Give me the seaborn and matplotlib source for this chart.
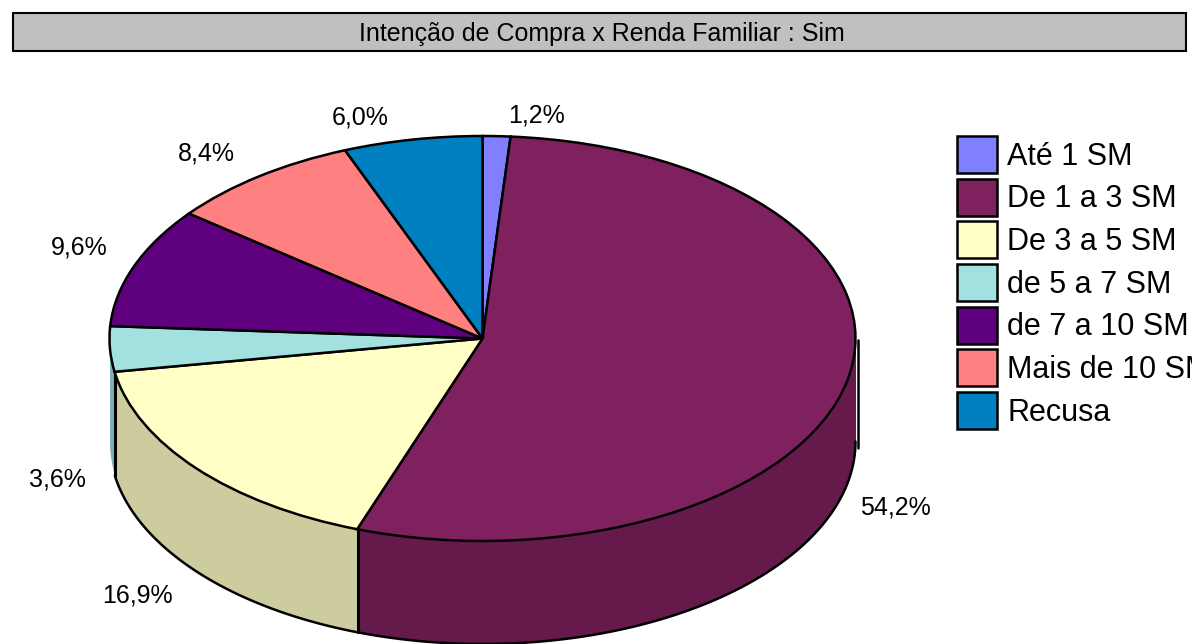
import numpy as np
import matplotlib.pyplot as plt
import matplotlib.patches as mpatches
import seaborn as sns

# Chart data
categories = ["Até 1 SM", "De 1 a 3 SM", "De 3 a 5 SM", "de 5 a 7 SM",
              "de 7 a 10 SM", "Mais de 10 SM", "Recusa"]
shares = [1.2, 54.2, 16.9, 3.6, 9.6, 8.4, 6.0]
title = "Intenção de Compra x Renda Familiar : Sim"

# Colours
top_colors = ["#8080FF", "#7F205F", "#FFFFC6", "#A3E0E0", "#5F007F", "#FF8080", "#0080C0"]
wall_colors = ["#6666CC", "#661A4C", "#CCCC9E", "#7FB0B8", "#4C0066", "#CC6666", "#006699"]

# Pixel layout of the picture
W, H = 1192, 644
cx, cy, rx, ry = 482.5, 338.5, 373, 202.5
depth = 103 / ry
label_xy = [(537, 115), (895, 508), (137, 596), (57, 480), (79, 247), (206, 154), (360, 117)]

sns.set_theme(style="white")
plt.rcParams["font.family"] = ["Liberation Sans", "DejaVu Sans"]

fig = plt.figure(figsize=(W / 100, H / 100), dpi=100)
ax = fig.add_axes([0, 0, 1, 1])

# Pie top, squashed to an ellipse by the axes limits
wedges, _ = ax.pie(shares, colors=sns.color_palette(top_colors), startangle=90,
                   counterclock=False, radius=1,
                   wedgeprops=dict(edgecolor="black", linewidth=1.8, zorder=3))
ax.set_aspect("auto")
ax.set_xlim(-cx / rx, (W - cx) / rx)
ax.set_ylim((cy - H) / ry, cy / ry)

# Side wall: the part of each slice on the front half of the ellipse
edges = 90 - 3.6 * np.cumsum([0] + shares)
for i in range(len(shares)):
    a1, a2 = edges[i], edges[i + 1]
    hi, lo = min(a1, 0), max(a2, -180)
    if hi <= lo:
        continue
    t = np.radians(np.linspace(hi, lo, 120))
    x, y = np.cos(t), np.sin(t)
    ax.fill_between(x, y, y - depth, color=wall_colors[i], linewidth=0, zorder=1)
    if i in (1, 2):
        ax.plot(x, y - depth, color="black", linewidth=1.8, zorder=2)
        ax.plot([x[-1], x[-1]], [y[-1], y[-1] - depth], color="black", linewidth=2.2, zorder=2)

# Stray vertical line right of the pie, as in the original
ax.plot([(858 - cx) / rx] * 2, [(cy - 340) / ry, (cy - 448) / ry], color="black", linewidth=1.8, zorder=2)

# Percentage labels
for (px, py), s in zip(label_xy, shares):
    ax.text((px - cx) / rx, (cy - py) / ry, f"{s:.1f}%".replace(".", ","),
            ha="center", va="center", fontsize=18, color="black", zorder=5)

# Title bar
bar = mpatches.Rectangle((13 / W, 1 - 51 / H), 1173 / W, 38 / H, transform=fig.transFigure,
                         facecolor="#C0C0C0", edgecolor="black", linewidth=1.5)
fig.add_artist(bar)
fig.text(602 / W, 1 - 34 / H, title, ha="center", va="center", fontsize=18, color="black")

# Legend
fs = 22
fpx = fs * 100 / 72
ax.legend(wedges, categories, loc="upper left", bbox_to_anchor=(957 / W, 1 - 136 / H),
          bbox_transform=fig.transFigure, frameon=False, fontsize=fs, labelcolor="black",
          borderpad=0, borderaxespad=0, handlelength=40 / fpx, handleheight=1.48,
          handletextpad=10 / fpx, labelspacing=5.8 / fpx)

fig.savefig("out.png", dpi=100)
